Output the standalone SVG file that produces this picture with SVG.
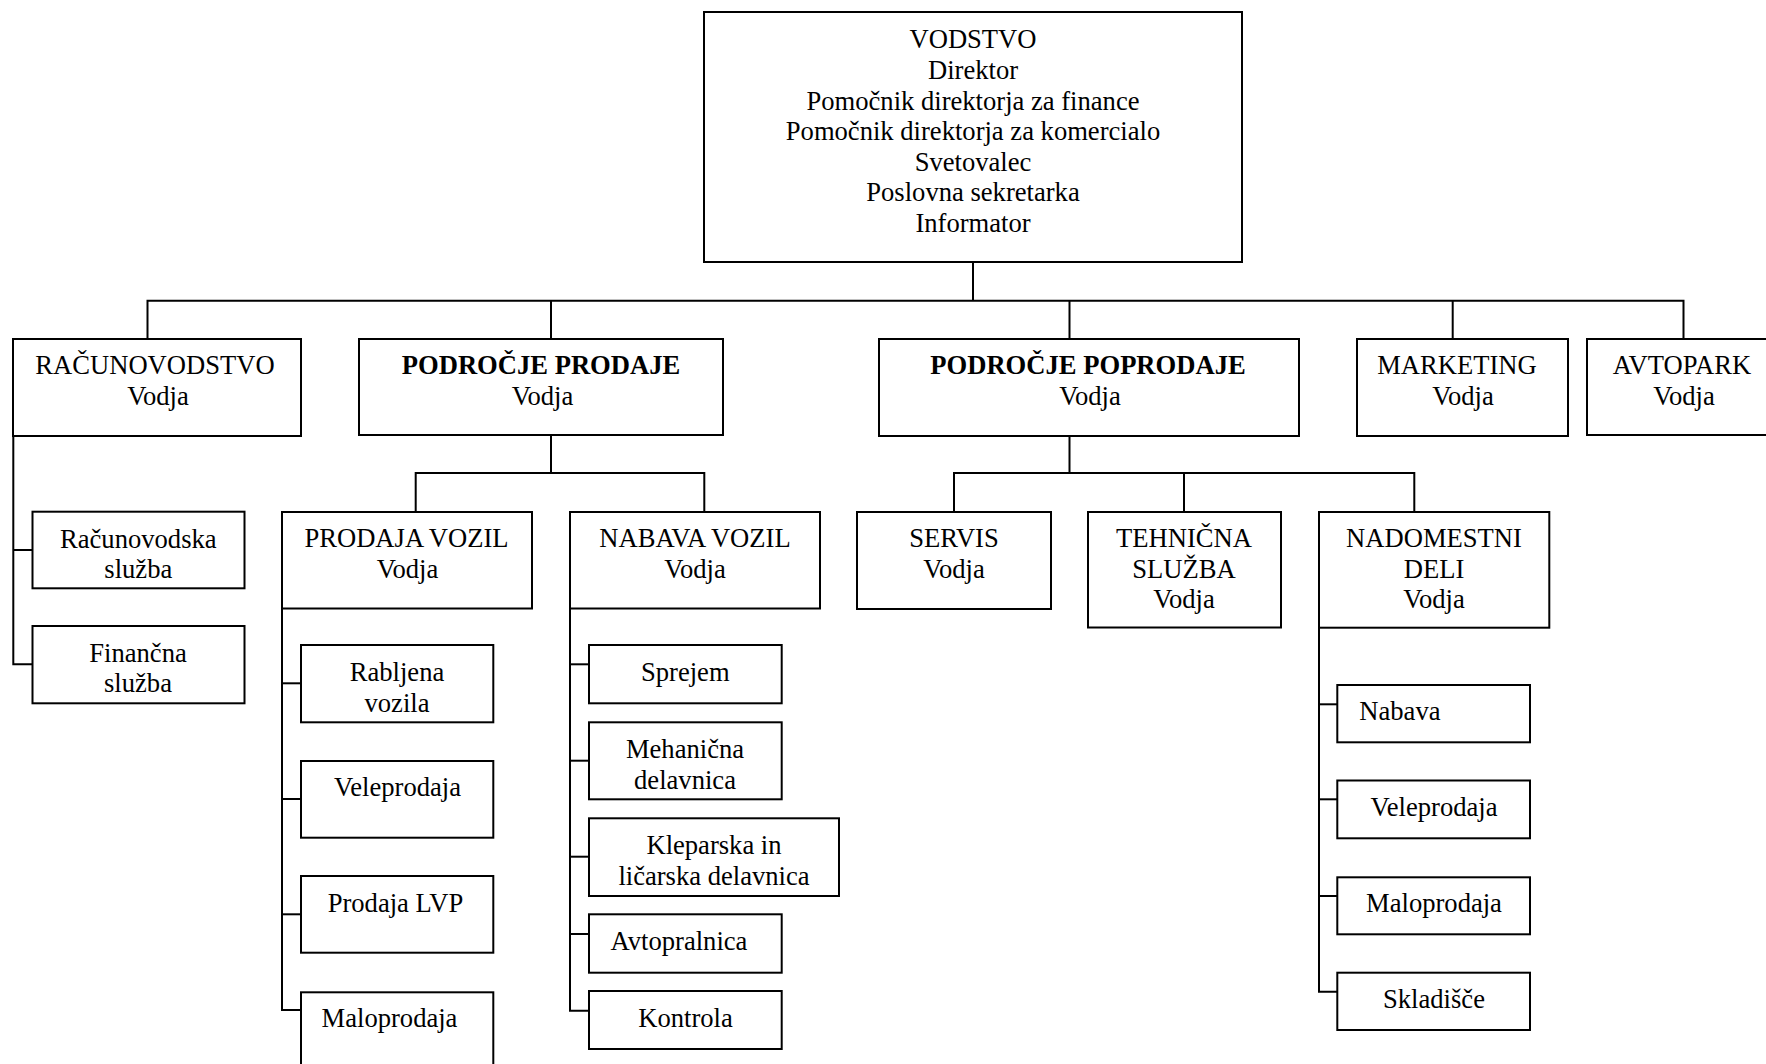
<svg xmlns="http://www.w3.org/2000/svg" width="1766" height="1064" viewBox="0 0 1766 1064">
  <style>
    .box { fill: #ffffff; stroke: #000000; stroke-width: 2; }
    .t { font-family: "Liberation Serif", "Times New Roman", serif; font-size: 26.6px; fill: #000000; text-anchor: middle; }
    .s { text-anchor: start; }
    .b { font-weight: bold; }
    #connectors path { fill: none; stroke: #000000; stroke-width: 2; }
  </style>
  <rect x="0" y="0" width="1766" height="1064" fill="#ffffff"/>

  <!-- connectors -->
  <g id="connectors">
    <!-- top level -->
    <path d="M973 262 V300.7"/>
    <path d="M147.5 339 V300.7 H1683.5 V339"/>
    <path d="M551 300.7 V339"/>
    <path d="M1069.5 300.7 V339"/>
    <path d="M1452.7 300.7 V339"/>
    <!-- accounting -->
    <path d="M13.3 436 V664.3 H32.5"/>
    <path d="M13.3 550 H32.5"/>
    <!-- sales area -->
    <path d="M551 434.5 V473"/>
    <path d="M415.7 512 V473 H704.3 V512"/>
    <!-- vehicle sales -->
    <path d="M282 608.5 V1010 H301"/>
    <path d="M282 683.3 H301"/>
    <path d="M282 799 H301"/>
    <path d="M282 914.3 H301"/>
    <!-- vehicle purchasing -->
    <path d="M570 608.5 V1010.7 H589"/>
    <path d="M570 664.3 H589"/>
    <path d="M570 760.7 H589"/>
    <path d="M570 856.7 H589"/>
    <path d="M570 934 H589"/>
    <!-- after-sales area -->
    <path d="M1069.5 436 V473"/>
    <path d="M954 512 V473 H1414.3 V512"/>
    <path d="M1184 473 V512"/>
    <!-- spare parts -->
    <path d="M1319 627.7 V991.7 H1337.3"/>
    <path d="M1319 704.3 H1337.3"/>
    <path d="M1319 799.3 H1337.3"/>
    <path d="M1319 896 H1337.3"/>
  </g>

  <!-- management -->
  <g id="vodstvo">
    <rect class="box" x="704" y="12" width="538" height="250"/>
    <text class="t" x="973" y="48.3">VODSTVO</text>
    <text class="t" x="973" y="78.9">Direktor</text>
    <text class="t" x="973" y="109.5">Pomočnik direktorja za finance</text>
    <text class="t" x="973" y="140.1">Pomočnik direktorja za komercialo</text>
    <text class="t" x="973" y="170.7">Svetovalec</text>
    <text class="t" x="973" y="201.3">Poslovna sekretarka</text>
    <text class="t" x="973" y="231.9">Informator</text>
  </g>

  <!-- first level -->
  <g id="racunovodstvo">
    <rect class="box" x="13" y="339" width="288" height="97"/>
    <text class="t" x="155" y="374">RAČUNOVODSTVO</text>
    <text class="t" x="158" y="404.6">Vodja</text>
  </g>
  <g id="podrocje-prodaje">
    <rect class="box" x="359" y="339" width="364" height="96"/>
    <text class="t b" x="541" y="374">PODROČJE PRODAJE</text>
    <text class="t" x="542.5" y="404.6">Vodja</text>
  </g>
  <g id="podrocje-poprodaje">
    <rect class="box" x="879" y="339" width="420" height="97"/>
    <text class="t b" x="1088" y="374">PODROČJE POPRODAJE</text>
    <text class="t" x="1090" y="404.6">Vodja</text>
  </g>
  <g id="marketing">
    <rect class="box" x="1357" y="339" width="211" height="97"/>
    <text class="t" x="1457" y="374">MARKETING</text>
    <text class="t" x="1463" y="404.6">Vodja</text>
  </g>
  <g id="avtopark">
    <rect class="box" x="1587" y="339" width="185" height="96"/>
    <text class="t" x="1682" y="374">AVTOPARK</text>
    <text class="t" x="1684" y="404.6">Vodja</text>
  </g>

  <!-- accounting units -->
  <g id="racunovodska-sluzba">
    <rect class="box" x="32.5" y="511.7" width="212" height="76.6"/>
    <text class="t" x="138.3" y="547.5">Računovodska</text>
    <text class="t" x="138.3" y="578">služba</text>
  </g>
  <g id="financna-sluzba">
    <rect class="box" x="32.5" y="626" width="212" height="77.3"/>
    <text class="t" x="138" y="661.7">Finančna</text>
    <text class="t" x="138" y="692.2">služba</text>
  </g>

  <!-- second level -->
  <g id="prodaja-vozil">
    <rect class="box" x="282" y="512" width="250" height="96.5"/>
    <text class="t" x="406.5" y="547">PRODAJA VOZIL</text>
    <text class="t" x="407.5" y="577.6">Vodja</text>
  </g>
  <g id="nabava-vozil">
    <rect class="box" x="570" y="512" width="250" height="96.5"/>
    <text class="t" x="695" y="547">NABAVA VOZIL</text>
    <text class="t" x="695" y="577.6">Vodja</text>
  </g>
  <g id="servis">
    <rect class="box" x="857" y="512" width="194" height="97"/>
    <text class="t" x="954" y="547">SERVIS</text>
    <text class="t" x="954" y="577.6">Vodja</text>
  </g>
  <g id="tehnicna-sluzba">
    <rect class="box" x="1088" y="512" width="193" height="115.5"/>
    <text class="t" x="1184" y="547">TEHNIČNA</text>
    <text class="t" x="1184" y="577.5">SLUŽBA</text>
    <text class="t" x="1184" y="608">Vodja</text>
  </g>
  <g id="nadomestni-deli">
    <rect class="box" x="1319" y="512" width="230.3" height="115.7"/>
    <text class="t" x="1434" y="547">NADOMESTNI</text>
    <text class="t" x="1434" y="577.5">DELI</text>
    <text class="t" x="1434" y="608">Vodja</text>
  </g>

  <!-- vehicle sales units -->
  <g id="rabljena-vozila">
    <rect class="box" x="301" y="645" width="192.3" height="77.3"/>
    <text class="t" x="397" y="680.7">Rabljena</text>
    <text class="t" x="397" y="711.5">vozila</text>
  </g>
  <g id="veleprodaja-vozil">
    <rect class="box" x="301" y="761" width="192.3" height="76.7"/>
    <text class="t" x="397.5" y="796">Veleprodaja</text>
  </g>
  <g id="prodaja-lvp">
    <rect class="box" x="301" y="876" width="192.3" height="76.7"/>
    <text class="t" x="395.5" y="911.5">Prodaja LVP</text>
  </g>
  <g id="maloprodaja-vozil">
    <rect class="box" x="301" y="992.3" width="192.3" height="80"/>
    <text class="t" x="389.5" y="1027">Maloprodaja</text>
  </g>

  <!-- vehicle purchasing units -->
  <g id="sprejem">
    <rect class="box" x="589" y="645" width="192.7" height="58.3"/>
    <text class="t" x="685.3" y="680.7">Sprejem</text>
  </g>
  <g id="mehanicna-delavnica">
    <rect class="box" x="589" y="722.3" width="192.7" height="77"/>
    <text class="t" x="685" y="758">Mehanična</text>
    <text class="t" x="685" y="788.5">delavnica</text>
  </g>
  <g id="kleparska-delavnica">
    <rect class="box" x="589" y="818.3" width="250" height="77.7"/>
    <text class="t" x="714" y="853.5">Kleparska in</text>
    <text class="t" x="714" y="884.5">ličarska delavnica</text>
  </g>
  <g id="avtopralnica">
    <rect class="box" x="589" y="914.3" width="192.7" height="58.4"/>
    <text class="t" x="679" y="950">Avtopralnica</text>
  </g>
  <g id="kontrola">
    <rect class="box" x="589" y="991" width="192.7" height="58"/>
    <text class="t" x="685.5" y="1026.7">Kontrola</text>
  </g>

  <!-- spare parts units -->
  <g id="nabava-delov">
    <rect class="box" x="1337.3" y="685" width="192.7" height="57.3"/>
    <text class="t s" x="1359.3" y="720">Nabava</text>
  </g>
  <g id="veleprodaja-delov">
    <rect class="box" x="1337.3" y="780.5" width="192.7" height="57.8"/>
    <text class="t" x="1434" y="816">Veleprodaja</text>
  </g>
  <g id="maloprodaja-delov">
    <rect class="box" x="1337.3" y="877.3" width="192.7" height="57"/>
    <text class="t" x="1434" y="912">Maloprodaja</text>
  </g>
  <g id="skladisce">
    <rect class="box" x="1337.3" y="972.7" width="192.7" height="57.3"/>
    <text class="t" x="1434" y="1008">Skladišče</text>
  </g>
</svg>
